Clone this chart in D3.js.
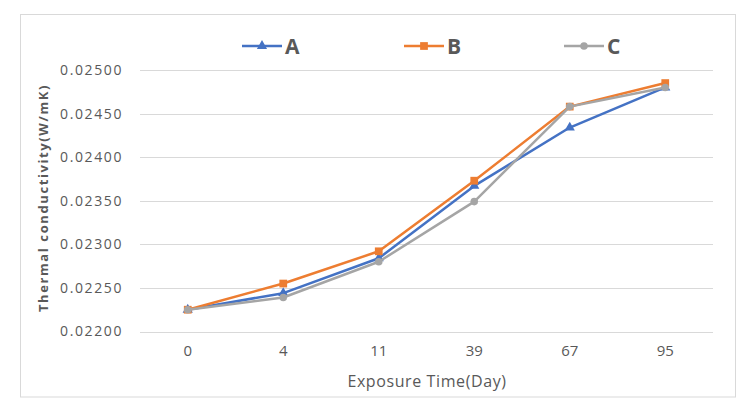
<!DOCTYPE html>
<html><head><meta charset="utf-8">
<script src="https://cdn.jsdelivr.net/npm/d3@7"></script>
<style>body{margin:0;background:#fff}svg{display:block}</style>
</head><body>
<svg id="c" width="744" height="405"></svg>
<script>
const categories = ["0","4","11","39","67","95"];
const seriesNames = ["A","B","C"];
const seriesA = [0.02225,0.02244,0.02284,0.02367,0.02434,0.02480];
const seriesB = [0.02225,0.02255,0.02292,0.02373,0.02458,0.02485];
const seriesC = [0.02225,0.02239,0.02280,0.02349,0.02458,0.02480];
const yTicks = [0.0220,0.0225,0.0230,0.0235,0.0240,0.0245,0.0250];

const colors = ["#4472C4","#ED7D31","#A5A5A5"];
const series = [seriesA, seriesB, seriesC];
const svg = d3.select("#c");

svg.append("rect").attr("x",20.5).attr("y",14.5).attr("width",715).attr("height",382.5)
  .attr("fill","#fff").attr("stroke","#d9d9d9").attr("stroke-width",1);

const x = d3.scaleBand().domain(categories).range([140,713]);
const y = d3.scaleLinear().domain([0.022,0.025]).range([331.5,70]);

const g = svg.append("g");
g.selectAll("line.grid").data(yTicks).join("line")
  .attr("x1",140).attr("x2",713)
  .attr("y1",d=>Math.round(y(d))+0.5).attr("y2",d=>Math.round(y(d))+0.5)
  .attr("stroke","#d9d9d9").attr("stroke-width",1);

const yAxis = svg.append("g").attr("transform","translate(140,0)")
  .call(d3.axisLeft(y).tickValues(yTicks).tickFormat(d3.format(".5f")).tickSize(0).tickPadding(17));
yAxis.select(".domain").remove();
yAxis.selectAll("text").attr("fill","#595959").style("font-family","'Open Sans',sans-serif")
  .style("font-size","14px").style("letter-spacing","1.6px");

const xAxis = svg.append("g").attr("transform","translate(0,331.5)")
  .call(d3.axisBottom(x).tickSize(0).tickPadding(14));
xAxis.select(".domain").remove();
xAxis.selectAll("text").attr("fill","#595959").style("font-family","'Open Sans',sans-serif")
  .style("font-size","15px");

svg.append("text").attr("x",427).attr("y",387).attr("text-anchor","middle")
  .attr("fill","#595959").style("font-family","'Open Sans',sans-serif").style("font-size","16px")
  .style("letter-spacing","0.6px")
  .text("Exposure Time(Day)");

svg.append("text").attr("transform","translate(48,198) rotate(-90)").attr("text-anchor","middle")
  .attr("fill","#595959").style("font-family","'Open Sans',sans-serif").style("font-size","13px")
  .style("font-weight","bold").style("letter-spacing","1.6px")
  .text("Thermal conductivity(W/mK)");

const line = d3.line().x((d,i)=>x(categories[i])+x.bandwidth()/2).y(d=>y(d));
const symTypes = [d3.symbolTriangle, d3.symbolSquare, d3.symbolCircle];
const symSizes = [45, 60, 45];

series.forEach((s,k)=>{
  svg.append("path").datum(s).attr("d",line).attr("fill","none")
    .attr("stroke",colors[k]).attr("stroke-width",2.5).attr("stroke-linejoin","round");
  svg.selectAll(null).data(s).join("path")
    .attr("transform",(d,i)=>`translate(${x(categories[i])+x.bandwidth()/2},${y(d)})`)
    .attr("d",d3.symbol().type(symTypes[k]).size(symSizes[k]))
    .attr("fill",colors[k]);
});

// legend
const legX = [242,404,564];
seriesNames.forEach((n,k)=>{
  const lg = svg.append("g").attr("transform",`translate(${legX[k]},46)`);
  lg.append("line").attr("x1",0).attr("x2",40).attr("y1",0).attr("y2",0)
    .attr("stroke",colors[k]).attr("stroke-width",2.5);
  lg.append("path").attr("transform","translate(20,0)")
    .attr("d",d3.symbol().type(symTypes[k]).size(symSizes[k])).attr("fill",colors[k]);
  lg.append("text").attr("x",43).attr("y",7.5).attr("fill","#595959")
    .style("font-family","'Open Sans',sans-serif").style("font-size","21px").style("font-weight","bold")
    .text(n);
});
</script>
</body></html>
